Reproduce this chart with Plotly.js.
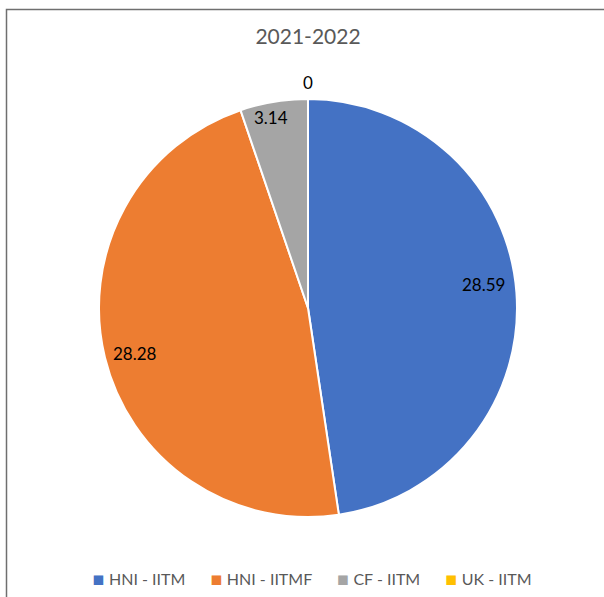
<!DOCTYPE html>
<html>
<head>
<meta charset="utf-8">
<script src="https://cdn.plot.ly/plotly-3.0.1.min.js"></script>
<style>
html,body{margin:0;padding:0;background:#fff;}
#chart{width:604px;height:597px;}
</style>
</head>
<body>
<div id="chart"></div>
<script>
const chartTitle = "2021-2022";
const categories = ["HNI - IITM", "HNI - IITMF", "CF - IITM", "UK - IITM"];
const values = [28.59, 28.28, 3.14, 0];
const colors = ["#4472C4", "#ED7D31", "#A5A5A5", "#FFC000"];

// label placement (layout only)
const labelRadius = [0.845, 0.857, 0.926, 1.08];
const labelAngleShift = [-3.3, -1.1, -1.5, 0];

const W = 604, H = 597;
const cx = 308, cy = 308, R = 209;
const FONT = "Lato, 'Open Sans', sans-serif";

const total = values.reduce((a, b) => a + b, 0);
const annotations = [];
let cum = 0;
values.forEach((v, i) => {
  const mid = ((cum + v / 2) / total * 360 + labelAngleShift[i]) * Math.PI / 180;
  cum += v;
  const r = R * labelRadius[i];
  const px = cx + r * Math.sin(mid);
  const py = cy - r * Math.cos(mid);
  annotations.push({
    x: px / W, y: 1 - py / H, xref: "paper", yref: "paper",
    text: String(v), showarrow: false,
    font: {family: FONT, size: 17, color: "#000000"},
    xanchor: "center", yanchor: "middle"
  });
});

// legend row (built from categories + colors)
const legendText = categories.map((c, i) =>
  `<span style="color:${colors[i]};font-size:19px;font-family:'DejaVu Sans'">▪</span>&nbsp;${c}`
).join("&nbsp;".repeat(6));
annotations.push({
  x: 312 / W, y: 1 - 578 / H, xref: "paper", yref: "paper",
  text: legendText, showarrow: false,
  font: {family: FONT, size: 16, color: "#595959"},
  xanchor: "center", yanchor: "middle"
});

const trace = {
  type: "pie",
  labels: categories,
  values: values,
  marker: {colors: colors, line: {color: "#ffffff", width: 2}},
  sort: false,
  direction: "clockwise",
  rotation: 0,
  textinfo: "none",
  hoverinfo: "label+value",
  domain: {x: [(cx - R) / W, (cx + R) / W], y: [1 - (cy + R) / H, 1 - (cy - R) / H]}
};

const layout = {
  width: W, height: H,
  margin: {l: 0, r: 0, t: 0, b: 0},
  paper_bgcolor: "#ffffff",
  title: {text: chartTitle, x: cx / W, xanchor: "center", y: 1 - 37 / H, yanchor: "middle",
          font: {family: FONT, size: 21, color: "#595959"}},
  showlegend: false,
  annotations: annotations,
  shapes: [{type: "rect", xref: "paper", yref: "paper",
            x0: 6.5 / W, x1: 1.2, y0: -0.2, y1: 1 - 9.5 / H,
            line: {color: "#6f6f6f", width: 1.5}, fillcolor: "rgba(0,0,0,0)"}]
};

Plotly.newPlot("chart", [trace], layout, {displayModeBar: false, staticPlot: true});
</script>
</body>
</html>
